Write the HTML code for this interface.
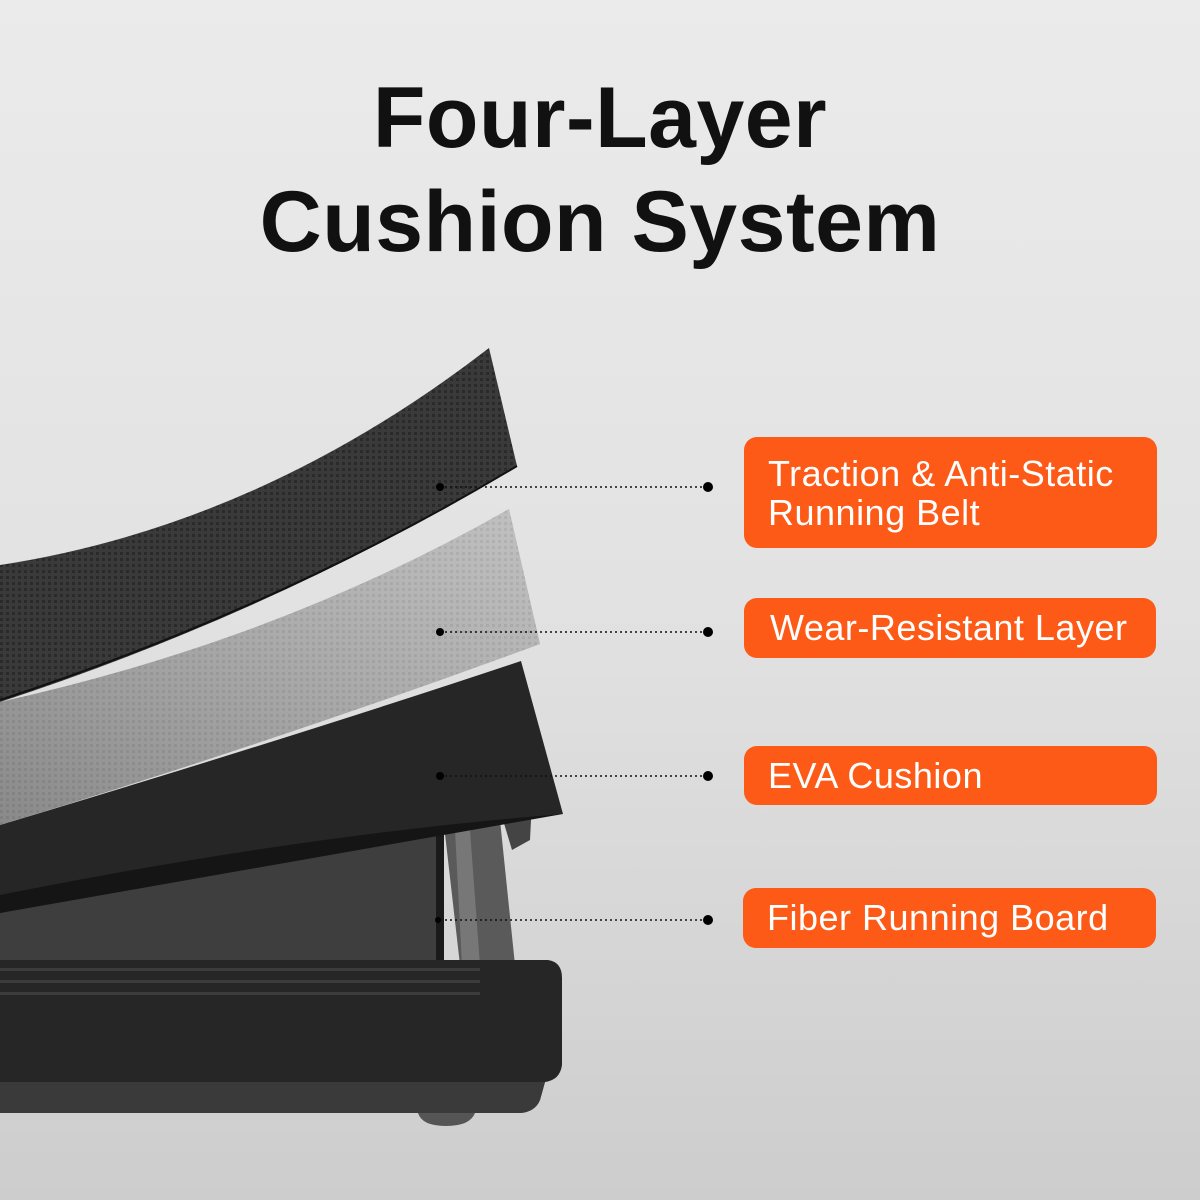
<!DOCTYPE html>
<html><head><meta charset="utf-8"><style>
html,body{margin:0;padding:0}
body{width:1200px;height:1200px;position:relative;overflow:hidden;background:linear-gradient(#ebebeb,#e2e2e2 50%,#cdcdcd);font-family:"Liberation Sans",sans-serif}
h1{position:absolute;top:66px;left:0;width:1200px;margin:0;text-align:center;font-size:86px;line-height:104px;font-weight:bold;color:#111;letter-spacing:0.5px}
.b{position:absolute;background:#fd5a17;border-radius:13px;color:#fff;font-size:36px;letter-spacing:0.5px;line-height:39px;box-sizing:border-box;padding-left:24px;white-space:nowrap}
</style></head><body>
<svg width="1200" height="1200" style="position:absolute;left:0;top:0">
<defs>
<pattern id="p1" width="6" height="6" patternUnits="userSpaceOnUse"><rect width="6" height="6" fill="#3a3a3a"/><rect width="3" height="3" fill="#2a2a2a"/></pattern>
<pattern id="p2" width="6" height="6" patternUnits="userSpaceOnUse"><rect width="6" height="6" fill="#a5a5a5"/><rect width="3" height="3" fill="#8c8c8c"/></pattern>
<linearGradient id="g2" x1="0" y1="1" x2="1" y2="0"><stop offset="0" stop-color="#777" stop-opacity=".6"/><stop offset="1" stop-color="#ddd" stop-opacity=".5"/></linearGradient>
</defs>
<path d="M0 900 L440 830 L440 965 L0 965Z" fill="#3e3e3e"/>
<rect x="436" y="830" width="8" height="135" fill="#1a1a1a"/>
<path d="M444 825 L500 820 L515 965 L460 965Z" fill="#5a5a5a"/>
<path d="M455 830 L470 830 L480 965 L462 965Z" fill="#777"/>
<path d="M500 810 L532 800 L530 840 L512 850Z" fill="#444"/>
<path d="M0 960 L548 960 Q562 962 562 978 L562 1065 Q560 1080 545 1082 L540 1100 Q535 1112 520 1113 L0 1113Z" fill="#262626"/>
<path d="M0 1082 L545 1082 L540 1100 Q535 1112 520 1113 L0 1113Z" fill="#3a3a3a"/>
<rect x="0" y="968" width="480" height="3" fill="#3c3c3c"/>
<rect x="0" y="980" width="480" height="3" fill="#3c3c3c"/>
<rect x="0" y="992" width="480" height="3" fill="#3c3c3c"/>
<path d="M418 1113 L475 1113 Q470 1126 446 1126 Q422 1126 418 1113Z" fill="#555"/>
<path d="M0 825 Q300 735 521 661 L563 814 Q300 850 0 913Z" fill="#262626"/>
<path d="M0 895 Q300 835 563 814 L0 913Z" fill="#151515"/>
<path d="M0 702 Q280 640 509 509 L540 644 Q280 740 0 825Z" fill="url(#p2)"/>
<path d="M0 702 Q280 640 509 509 L540 644 Q280 740 0 825Z" fill="url(#g2)"/>
<path d="M0 565 Q260 525 489 348 L517 466 Q280 610 0 702Z" fill="url(#p1)"/>
<path d="M0 700 Q280 608 517 466" stroke="#111" stroke-width="2" fill="none"/>
<g stroke="#111" stroke-width="1.5" stroke-dasharray="2 3">
<line x1="440" y1="487" x2="708" y2="487"/><line x1="440" y1="632" x2="708" y2="632"/>
<line x1="440" y1="776" x2="708" y2="776"/><line x1="440" y1="920" x2="708" y2="920"/></g>
<g fill="#000"><circle cx="440" cy="487" r="4"/><circle cx="440" cy="632" r="4"/><circle cx="440" cy="776" r="4"/><circle cx="438" cy="920" r="3"/>
<circle cx="708" cy="487" r="5"/><circle cx="708" cy="632" r="5"/><circle cx="708" cy="776" r="5"/><circle cx="708" cy="920" r="5"/></g>
</svg>
<h1>Four-Layer<br>Cushion System</h1>
<div class="b" style="left:744px;top:437px;width:413px;height:111px;padding-top:17px">Traction &amp; Anti-Static<br>Running Belt</div>
<div class="b" style="left:744px;top:598px;width:412px;height:60px;padding-top:10px;padding-left:26px">Wear-Resistant Layer</div>
<div class="b" style="left:744px;top:746px;width:413px;height:59px;padding-top:10px">EVA Cushion</div>
<div class="b" style="left:743px;top:888px;width:413px;height:60px;padding-top:10px">Fiber Running Board</div>
</body></html>
